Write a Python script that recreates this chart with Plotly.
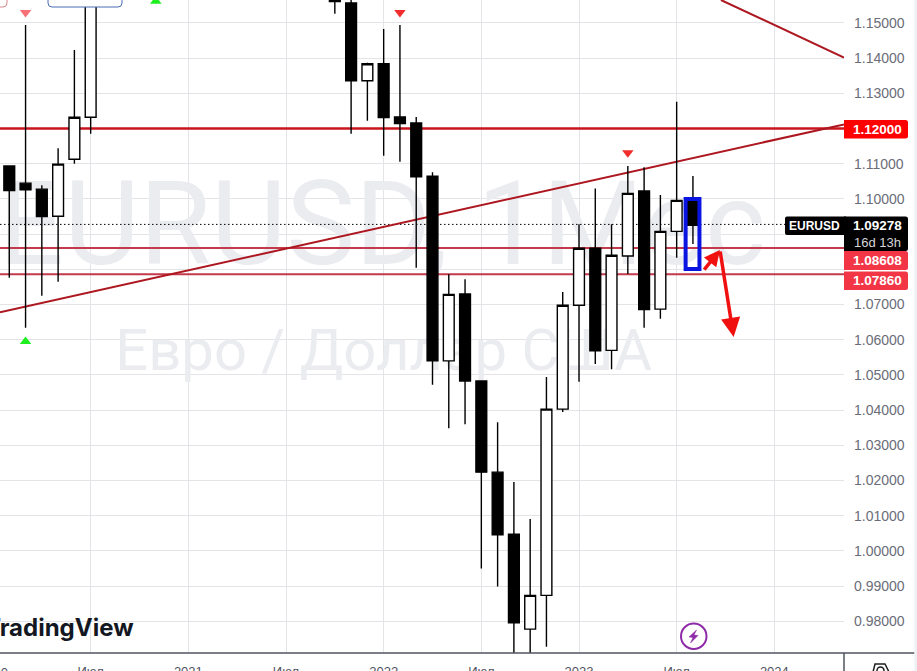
import plotly.graph_objects as go

# Months counted from Jan 2020 = 0
months = [1, 2, 3, 4, 5, 6, 21, 22, 23, 24, 25, 26, 27, 28, 29, 30, 31, 32, 33, 34, 35, 36, 37, 38, 39, 40, 41, 42, 43]
opens = [1.1094, 1.1045, 1.1028, 1.0951, 1.1113, 1.1232, 1.1580, 1.1557, 1.1336, 1.1384, 1.1233, 1.1216, 1.1065, 1.0540, 1.0730, 1.0483, 1.0224, 1.0048, 0.9778, 0.9874, 1.0403, 1.0698, 1.0860, 1.0570, 1.0838, 1.1023, 1.0687, 1.0908, 1.0992]
highs = [1.1095, 1.1494, 1.1039, 1.1144, 1.1423, 1.1909, 1.1692, 1.1616, 1.1387, 1.1483, 1.1494, 1.1233, 1.1076, 1.0786, 1.0772, 1.0484, 1.0366, 1.0196, 1.0091, 1.0494, 1.0736, 1.0928, 1.1030, 1.0928, 1.1094, 1.1090, 1.1011, 1.1276, 1.1065]
lows = [1.0776, 1.0634, 1.0725, 1.0765, 1.1100, 1.1185, 1.1526, 1.1185, 1.1222, 1.1123, 1.1106, 1.0805, 1.0472, 1.0349, 1.0360, 0.9950, 0.9899, 0.9536, 0.9632, 0.9728, 1.0395, 1.0481, 1.0531, 1.0516, 1.0787, 1.0634, 1.0660, 1.0833, 1.0872]
closes = [1.1024, 1.1026, 1.0950, 1.1099, 1.1232, 1.1780, 1.1561, 1.1336, 1.1384, 1.1231, 1.1214, 1.1063, 1.0540, 1.0729, 1.0483, 1.0224, 1.0046, 0.9796, 0.9874, 1.0403, 1.0698, 1.0860, 1.0569, 1.0840, 1.1016, 1.0686, 1.0908, 1.0996, 1.0925]

price_ticks = [0.98, 0.99, 1.00, 1.01, 1.02, 1.03, 1.04, 1.05, 1.06, 1.07, 1.08, 1.09, 1.10, 1.11, 1.12, 1.13, 1.14, 1.15]
price_labels = ["0.98000", "0.99000", "1.00000", "1.01000", "1.02000", "1.03000", "1.04000", "1.05000", "1.06000",
                "1.07000", "", "", "1.10000", "1.11000", "", "1.13000", "1.14000", "1.15000"]
time_ticks = [6, 12, 18, 24, 30, 36, 42, 48]
time_labels = ["Июл", "2021", "Июл", "2022", "Июл", "2023", "Июл", "2024"]

level_thick = 1.12
level_a = 1.08608
level_b = 1.0786
last_price = 1.09278

trend_long_x = [0.43, 52.28]
trend_long_y = [1.0678, 1.1212]
trend_top_x = [44.72, 52.28]
trend_top_y = [1.15653, 1.1402]

sell_x = [2, 25, 39]
sell_y = [1.1530, 1.1530, 1.1131]
sell_colors = ["#f77078", "#f02c2c", "#f02c2c"]
buy_x = [2, 10]
buy_y = [1.0595, 1.1562]

X_RANGE = [0.43, 52.28]
Y_RANGE = [0.97102, 1.15653]
W, H = 917, 671
L, R, T, B = 0, 73, 0, 18
PW, PH = W - L - R, H - T - B


def px(x):
    return x / PW


def py(y):
    return 1 - y / PH


GRID = "#e4e4e8"
AXIS = "#50535e"
TICK = "#6a6d78"
WM = "#ebecf0"

fig = go.Figure()

# Watermark, drawn on the lower axes so candles sit above it
fig.add_trace(go.Scatter(x=[23.9], y=[1.0897], mode="text", text=["EURUSD, 1Мес"],
                         textfont=dict(family="Roboto", size=116, color=WM), hoverinfo="skip"))
fig.add_trace(go.Scatter(x=[24.0], y=[1.0555], mode="text", text=["Евро / Доллар США"],
                         textfont=dict(family="Roboto", size=58, color=WM), hoverinfo="skip"))

# Levels and trend lines
fig.add_trace(go.Scatter(x=X_RANGE, y=[last_price, last_price], mode="lines",
                         line=dict(color="#000000", width=1, dash="1.5px,2.5px")))
fig.add_trace(go.Scatter(x=X_RANGE, y=[level_thick, level_thick], mode="lines",
                         line=dict(color="#c8141c", width=2.5)))
for lv in (level_a, level_b):
    fig.add_trace(go.Scatter(x=X_RANGE, y=[lv, lv], mode="lines", line=dict(color="#c23a4c", width=2)))
fig.add_trace(go.Scatter(x=trend_long_x, y=trend_long_y, mode="lines", line=dict(color="#ad1720", width=2)))
fig.add_trace(go.Scatter(x=trend_top_x, y=trend_top_y, mode="lines", line=dict(color="#ad1720", width=2)))

# Candles on an overlaid axis pair
fig.add_trace(go.Candlestick(
    x=months, open=opens, high=highs, low=lows, close=closes, xaxis="x2", yaxis="y2",
    increasing=dict(line=dict(color="#000000", width=1.4), fillcolor="#ffffff"),
    decreasing=dict(line=dict(color="#000000", width=1.4), fillcolor="#000000"),
    whiskerwidth=0, hoverinfo="skip"))

# Signal markers
fig.add_trace(go.Scatter(x=sell_x, y=sell_y, mode="markers", xaxis="x2", yaxis="y2",
                         marker=dict(symbol="triangle-down", size=10, color=sell_colors, line=dict(width=0))))
fig.add_trace(go.Scatter(x=buy_x, y=buy_y, mode="markers", xaxis="x2", yaxis="y2",
                         marker=dict(symbol="triangle-up", size=10, color="#1fee1f", line=dict(width=0))))

shapes = [
    # highlighted bar range
    dict(type="rect", xref="x2", yref="y2", x0=42.55, x1=43.4, y0=1.0801, y1=1.1000,
         line=dict(color="#0a14e0", width=4), fillcolor="rgba(0,0,0,0)", layer="above"),
    # clipped labels at the top edge
    dict(type="path", xref="paper", yref="paper",
         path=f"M {px(48)} {py(-5)} L {px(48)} {py(3)} Q {px(48)} {py(7)} {px(52)} {py(7)} "
              f"L {px(118)} {py(7)} Q {px(122)} {py(7)} {px(122)} {py(3)} L {px(122)} {py(-5)} Z",
         line=dict(color="#4a6cb4", width=1), fillcolor="#ffffff"),
    dict(type="path", xref="paper", yref="paper",
         path=f"M {px(-4)} {py(7)} L {px(3)} {py(7)} Q {px(7)} {py(7)} {px(7)} {py(3)} L {px(7)} {py(-5)}",
         line=dict(color="#d9868c", width=1)),
    # lightning badge
    dict(type="circle", xref="paper", yref="paper", x0=px(681), x1=px(706.5), y0=py(649), y1=py(623.5),
         line=dict(color="#8e2aa8", width=2), fillcolor="#ffffff"),
    dict(type="path", xref="paper", yref="paper",
         path=f"M {px(696.5)} {py(630)} L {px(689)} {py(637)} L {px(693)} {py(637.5)} L {px(690.5)} {py(643)} "
              f"L {px(698)} {py(635.5)} L {px(694)} {py(635)} Z",
         line=dict(color="#8e2aa8", width=0.5), fillcolor="#8e2aa8"),
    # right scale frame
    dict(type="line", xref="paper", yref="paper", x0=1, x1=1, y0=0, y1=py(671),
         line=dict(color=AXIS, width=1.5)),
    dict(type="line", xref="paper", yref="paper", x0=0, x1=px(914.5), y0=0, y1=0,
         line=dict(color=AXIS, width=1.5)),
    dict(type="rect", xref="paper", yref="paper", x0=px(914.5), x1=px(917), y0=py(671), y1=1,
         line=dict(width=0), fillcolor="#eef0f3"),
    # settings icon, cut by the edge
    dict(type="path", xref="paper", yref="paper",
         path=f"M {px(873)} {py(672)} L {px(875)} {py(664)} L {px(885)} {py(664)} L {px(889)} {py(672)}",
         line=dict(color="#202020", width=1.5)),
    dict(type="circle", xref="paper", yref="paper", x0=px(877), x1=px(884), y0=py(674), y1=py(667),
         line=dict(color="#202020", width=1.5)),
]

annotations = []


def price_box(text, y0, y1, color, font="#ffffff"):
    shapes.append(dict(type="path", xref="paper", yref="paper",
                       path=f"M {px(844)} {py(y0)} L {px(905.5)} {py(y0)} Q {px(908)} {py(y0)} {px(908)} {py(y0+2.5)} "
                            f"L {px(908)} {py(y1-2.5)} Q {px(908)} {py(y1)} {px(905.5)} {py(y1)} L {px(844)} {py(y1)} Z",
                       line=dict(width=0), fillcolor=color, layer="above"))
    if text:
        annotations.append(dict(xref="paper", yref="paper", x=px(877.5), y=py((y0 + y1) / 2), text=text,
                                showarrow=False, xanchor="center", yanchor="middle",
                                font=dict(family="Liberation Sans", size=13.5, color=font)))


price_box("<b>1.12000</b>", 120, 138.5, "#ff0000")
price_box("<b>1.07860</b>", 271.5, 290, "#f23645")
price_box("<b>1.08608</b>", 251, 270, "#f23645")
# last price block
shapes.append(dict(type="path", xref="paper", yref="paper",
                   path=f"M {px(787)} {py(216.5)} L {px(846)} {py(216.5)} L {px(846)} {py(235)} L {px(787)} {py(235)} "
                        f"Q {px(785)} {py(235)} {px(785)} {py(233)} L {px(785)} {py(218.5)} Q {px(785)} {py(216.5)} {px(787)} {py(216.5)} Z",
                   line=dict(width=0), fillcolor="#000000", layer="above"))
price_box("", 216.5, 251, "#000000")
annotations += [
    dict(xref="paper", yref="paper", x=px(814), y=py(226), text="<b>EURUSD</b>", showarrow=False,
         xanchor="center", yanchor="middle", font=dict(family="Liberation Sans", size=12, color="#ffffff")),
    dict(xref="paper", yref="paper", x=px(877.5), y=py(226), text="<b>1.09278</b>", showarrow=False,
         xanchor="center", yanchor="middle", font=dict(family="Liberation Sans", size=13.5, color="#ffffff")),
    dict(xref="paper", yref="paper", x=px(877.5), y=py(242), text="16d 13h", showarrow=False,
         xanchor="center", yanchor="middle", font=dict(family="Liberation Sans", size=13, color="#d5d5d8")),
    # arrows
    dict(xref="x2", yref="y2", axref="x2", ayref="y2", x=44.66, y=1.0855, ax=43.62, ay=1.0795,
         showarrow=True, arrowhead=2, arrowsize=0.9, arrowwidth=3.5, arrowcolor="#f01010", text=""),
    dict(xref="x2", yref="y2", axref="x2", ayref="y2", x=45.5, y=1.0608, ax=44.66, ay=1.0855,
         showarrow=True, arrowhead=2, arrowsize=1.1, arrowwidth=3.5, arrowcolor="#f01010", text=""),
    # logo and partly cut axis label
    dict(xref="paper", yref="paper", x=px(135.5), y=py(627), text="<b>TradingView</b>", showarrow=False,
         xanchor="right", yanchor="middle", font=dict(family="Inter", size=24, color="#131722")),
    dict(xref="paper", yref="paper", x=px(-7), y=py(672.5), text="2020", showarrow=False,
         xanchor="center", yanchor="middle", font=dict(family="Liberation Sans", size=13, color="#50535e")),
]

common_y = dict(range=Y_RANGE, showgrid=False, zeroline=False)
common_x = dict(range=X_RANGE, showgrid=False, zeroline=False)

fig.update_layout(
    width=W, height=H, margin=dict(l=L, r=R, t=T, b=B, pad=0, autoexpand=False), showlegend=False,
    paper_bgcolor="#ffffff", plot_bgcolor="#ffffff", boxgap=0.05, dragmode=False,
    xaxis=dict(range=X_RANGE, tickvals=time_ticks, ticktext=time_labels, showgrid=True, gridcolor=GRID, gridwidth=1,
               zeroline=False, showline=False, ticks="", ticklabelstandoff=9, automargin=False,
               tickfont=dict(family="Liberation Sans", size=13, color="#50535e"), fixedrange=True),
    yaxis=dict(range=Y_RANGE, side="right", tickvals=price_ticks, ticktext=price_labels, showgrid=True, gridcolor=GRID, gridwidth=1,
               zeroline=False, showline=False, ticks="", ticklabelstandoff=9, automargin=False,
               tickfont=dict(family="Liberation Sans", size=14, color=TICK), fixedrange=True),
    xaxis2=dict(overlaying="x", visible=False, rangeslider=dict(visible=False), **common_x),
    yaxis2=dict(overlaying="y", side="right", visible=False, **common_y),
    shapes=shapes, annotations=annotations,
)
fig.update_xaxes(rangeslider_visible=False)

fig.write_html("out.html", config=dict(displayModeBar=False),
               post_script="document.body.style.margin='0';")
